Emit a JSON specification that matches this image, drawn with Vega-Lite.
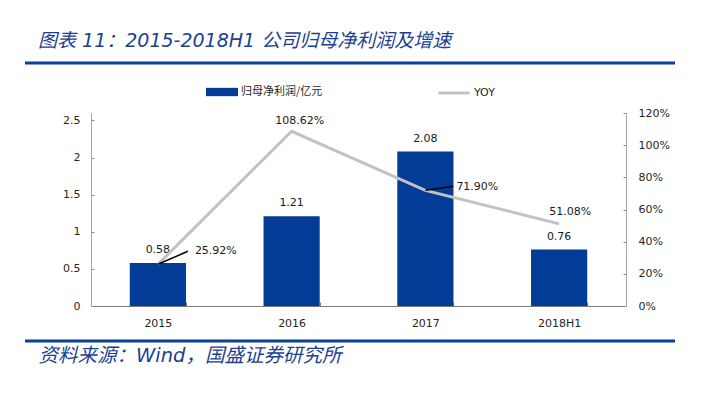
{
  "$schema": "https://vega.github.io/schema/vega-lite/v6.json",
  "background": "white",
  "autosize": {"type": "none"},
  "padding": {"left": 25, "top": 63, "right": 26, "bottom": 56},
  "width": 650,
  "height": 278,
  "view": {"stroke": "#0b3f98", "strokeWidth": 3, "strokeDash": [650, 278], "strokeCap": "butt", "fill": "white"},
  "config": {
    "font": "DejaVu Sans",
    "axis": {"labelFont": "DejaVu Sans", "labelFontSize": 11, "labelColor": "#262626", "domainColor": "#a6a6a6", "tickColor": "#8c8c8c", "grid": false, "labelOverlap": false},
    "legend": {"labelFont": "Noto Sans CJK SC", "labelFontSize": 11, "labelColor": "#262626", "padding": 0}
  },
  "title": {
    "text": "图表 11：2015-2018H1 公司归母净利润及增速",
    "anchor": "start",
    "frame": "group",
    "font": "DejaVu Sans, Noto Sans CJK SC",
    "fontSize": 19,
    "fontStyle": "italic",
    "fontWeight": "normal",
    "color": "#1c3f94",
    "dx": 13,
    "offset": 12
  },
  "data": {"values": [
    {"period": "2015", "profit": 0.58, "yoy": 0.2592},
    {"period": "2016", "profit": 1.21, "yoy": 1.0862},
    {"period": "2017", "profit": 2.08, "yoy": 0.719},
    {"period": "2018H1", "profit": 0.76, "yoy": 0.5108}
  ]},
  "encoding": {
    "x": {
      "field": "period", "type": "nominal", "sort": null,
      "scale": {"range": [66, 601], "paddingInner": 0.58, "paddingOuter": 0.29},
      "axis": {
        "title": "资料来源：Wind，国盛证券研究所",
        "titleFont": "DejaVu Sans, Noto Sans CJK SC",
        "titleFontSize": 19.5,
        "titleFontStyle": "italic",
        "titleFontWeight": "normal",
        "titleColor": "#1c3f94",
        "titleAnchor": "start",
        "titleAlign": "left",
        "titleBaseline": "middle",
        "titleX": 13,
        "titleY": 49,
        "offset": -35,
        "labelAngle": 0, "tickBand": "extent", "tickSize": -4, "labelPadding": 15,
        "domainColor": "#7a7a7a", "tickColor": "#7a7a7a"
      }
    }
  },
  "layer": [
    {
      "layer": [
        {
          "mark": {"type": "bar"},
          "encoding": {
            "y": {"field": "profit", "type": "quantitative", "scale": {"domain": [0, 2.5], "range": [243, 50]},
              "axis": {"orient": "left", "offset": -66, "title": null, "values": [0, 0.5, 1, 1.5, 2, 2.5], "format": "~g", "tickSize": -3, "labelPadding": 14}},
            "color": {"datum": "归母净利润/亿元", "type": "nominal", "scale": {"range": ["#023c96"]},
              "legend": {"title": null, "orient": "none", "legendX": 181, "legendY": 13, "symbolType": "M-1,-0.26H1V0.26H-1Z", "symbolSize": 1024, "symbolStrokeWidth": 0, "labelOffset": 3}}
          }
        },
        {
          "mark": {"type": "text", "dy": -13, "fontSize": 11, "color": "#1a1a1a", "baseline": "middle"},
          "encoding": {
            "y": {"field": "profit", "type": "quantitative"},
            "text": {"field": "profit", "type": "quantitative", "format": ".2f"}
          }
        }
      ]
    },
    {
      "layer": [
        {
          "mark": {"type": "line", "strokeWidth": 3},
          "encoding": {
            "y": {"field": "yoy", "type": "quantitative", "scale": {"domain": [0, 1.2], "range": [243, 50]},
              "axis": {"orient": "right", "offset": -49, "title": null, "values": [0, 0.2, 0.4, 0.6, 0.8, 1, 1.2], "format": ".0%", "tickSize": -3, "labelPadding": 15}},
            "stroke": {"datum": "YOY", "type": "nominal", "scale": {"range": ["#c2c2c2"]},
              "legend": {"title": null, "orient": "none", "legendX": 412, "legendY": 13, "symbolSize": 961, "symbolStrokeWidth": 3, "labelOffset": 3, "labelFont": "DejaVu Sans"}}
          }
        },
        {
          "transform": [{"filter": "datum.period == '2015'"}],
          "mark": {"type": "rule", "color": "black", "strokeWidth": 1.5, "x2Offset": 30, "y2Offset": -13},
          "encoding": {"y": {"field": "yoy", "type": "quantitative"}, "x2": {"field": "period"}, "y2": {"field": "yoy"}}
        },
        {
          "transform": [{"filter": "datum.period == '2017'"}],
          "mark": {"type": "rule", "color": "black", "strokeWidth": 1.5, "x2Offset": 28, "y2Offset": -4},
          "encoding": {"y": {"field": "yoy", "type": "quantitative"}, "x2": {"field": "period"}, "y2": {"field": "yoy"}}
        },
        {
          "transform": [{"filter": "datum.period == '2015'"}],
          "mark": {"type": "text", "align": "left", "baseline": "middle", "dx": 37, "dy": -13, "fontSize": 11, "color": "#1a1a1a"},
          "encoding": {"y": {"field": "yoy", "type": "quantitative"}, "text": {"field": "yoy", "type": "quantitative", "format": ".2%"}}
        },
        {
          "transform": [{"filter": "datum.period == '2016'"}],
          "mark": {"type": "text", "align": "center", "baseline": "middle", "dx": 8, "dy": -10, "fontSize": 11, "color": "#1a1a1a"},
          "encoding": {"y": {"field": "yoy", "type": "quantitative"}, "text": {"field": "yoy", "type": "quantitative", "format": ".2%"}}
        },
        {
          "transform": [{"filter": "datum.period == '2017'"}],
          "mark": {"type": "text", "align": "left", "baseline": "middle", "dx": 31, "dy": -3, "fontSize": 11, "color": "#1a1a1a"},
          "encoding": {"y": {"field": "yoy", "type": "quantitative"}, "text": {"field": "yoy", "type": "quantitative", "format": ".2%"}}
        },
        {
          "transform": [{"filter": "datum.period == '2018H1'"}],
          "mark": {"type": "text", "align": "center", "baseline": "middle", "dx": 11, "dy": -12, "fontSize": 11, "color": "#1a1a1a"},
          "encoding": {"y": {"field": "yoy", "type": "quantitative"}, "text": {"field": "yoy", "type": "quantitative", "format": ".2%"}}
        }
      ]
    }
  ],
  "resolve": {"scale": {"y": "independent"}}
}
